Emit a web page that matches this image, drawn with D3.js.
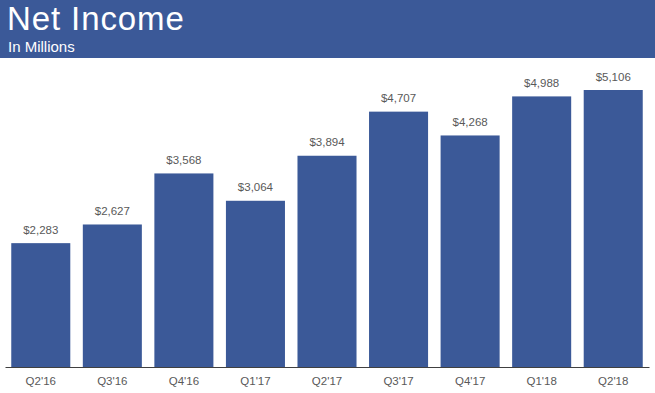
<!DOCTYPE html>
<html>
<head>
<meta charset="utf-8">
<script src="https://cdn.jsdelivr.net/npm/d3@7"></script>
<style>
  body { margin: 0; background: #fff; }
  svg { display: block; font-family: "Liberation Sans", Arial, sans-serif; }
</style>
</head>
<body>
<div id="chart"></div>
<script>
// data
var quarters = ["Q2'16", "Q3'16", "Q4'16", "Q1'17", "Q2'17", "Q3'17", "Q4'17", "Q1'18", "Q2'18"];
var netIncome = [2283, 2627, 3568, 3064, 3894, 4707, 4268, 4988, 5106];

var width = 655, height = 393;
var blue = "#3b5998";

var svg = d3.select("#chart").append("svg")
    .attr("width", width)
    .attr("height", height);

// header band
svg.append("rect")
    .attr("x", 0).attr("y", 0)
    .attr("width", width).attr("height", 58)
    .attr("fill", blue);

svg.append("text")
    .attr("x", 7).attr("y", 30)
    .attr("fill", "#fff")
    .style("font-size", "33px")
    .style("letter-spacing", "0.9px")
    .text("Net Income");

svg.append("text")
    .attr("x", 8).attr("y", 52)
    .attr("fill", "#fff")
    .style("font-size", "15px")
    .text("In Millions");

// scales
var baseY = 367;
var x = d3.scaleBand()
    .domain(quarters)
    .range([5, 649])
    .paddingInner(0.175)
    .paddingOuter(0.0875);

var y = d3.scaleLinear()
    .domain([0, 5106])
    .range([baseY, 90]);

var data = quarters.map(function(q, i) { return {q: q, v: netIncome[i]}; });

// bars
svg.selectAll(".bar").data(data).enter().append("rect")
    .attr("class", "bar")
    .attr("x", function(d) { return x(d.q); })
    .attr("y", function(d) { return y(d.v); })
    .attr("width", x.bandwidth())
    .attr("height", function(d) { return baseY - y(d.v); })
    .attr("fill", blue);

// value labels
svg.selectAll(".val").data(data).enter().append("text")
    .attr("class", "val")
    .attr("x", function(d) { return x(d.q) + x.bandwidth() / 2; })
    .attr("y", function(d) { return y(d.v) - 9.5; })
    .attr("text-anchor", "middle")
    .attr("fill", "#595959")
    .style("font-size", "11.5px")
    .text(function(d) { return "$" + d3.format(",")(d.v); });

// x axis
var xAxis = d3.axisBottom(x).tickSize(0).tickPadding(10);
var axisG = svg.append("g")
    .attr("transform", "translate(0," + baseY + ")")
    .call(xAxis);
axisG.select(".domain").attr("stroke", "#404040").attr("stroke-width", 1.2);
axisG.selectAll("text")
    .attr("fill", "#595959")
    .style("font-size", "11.5px")
    .style("font-family", "'Liberation Sans', Arial, sans-serif");
</script>
</body>
</html>
